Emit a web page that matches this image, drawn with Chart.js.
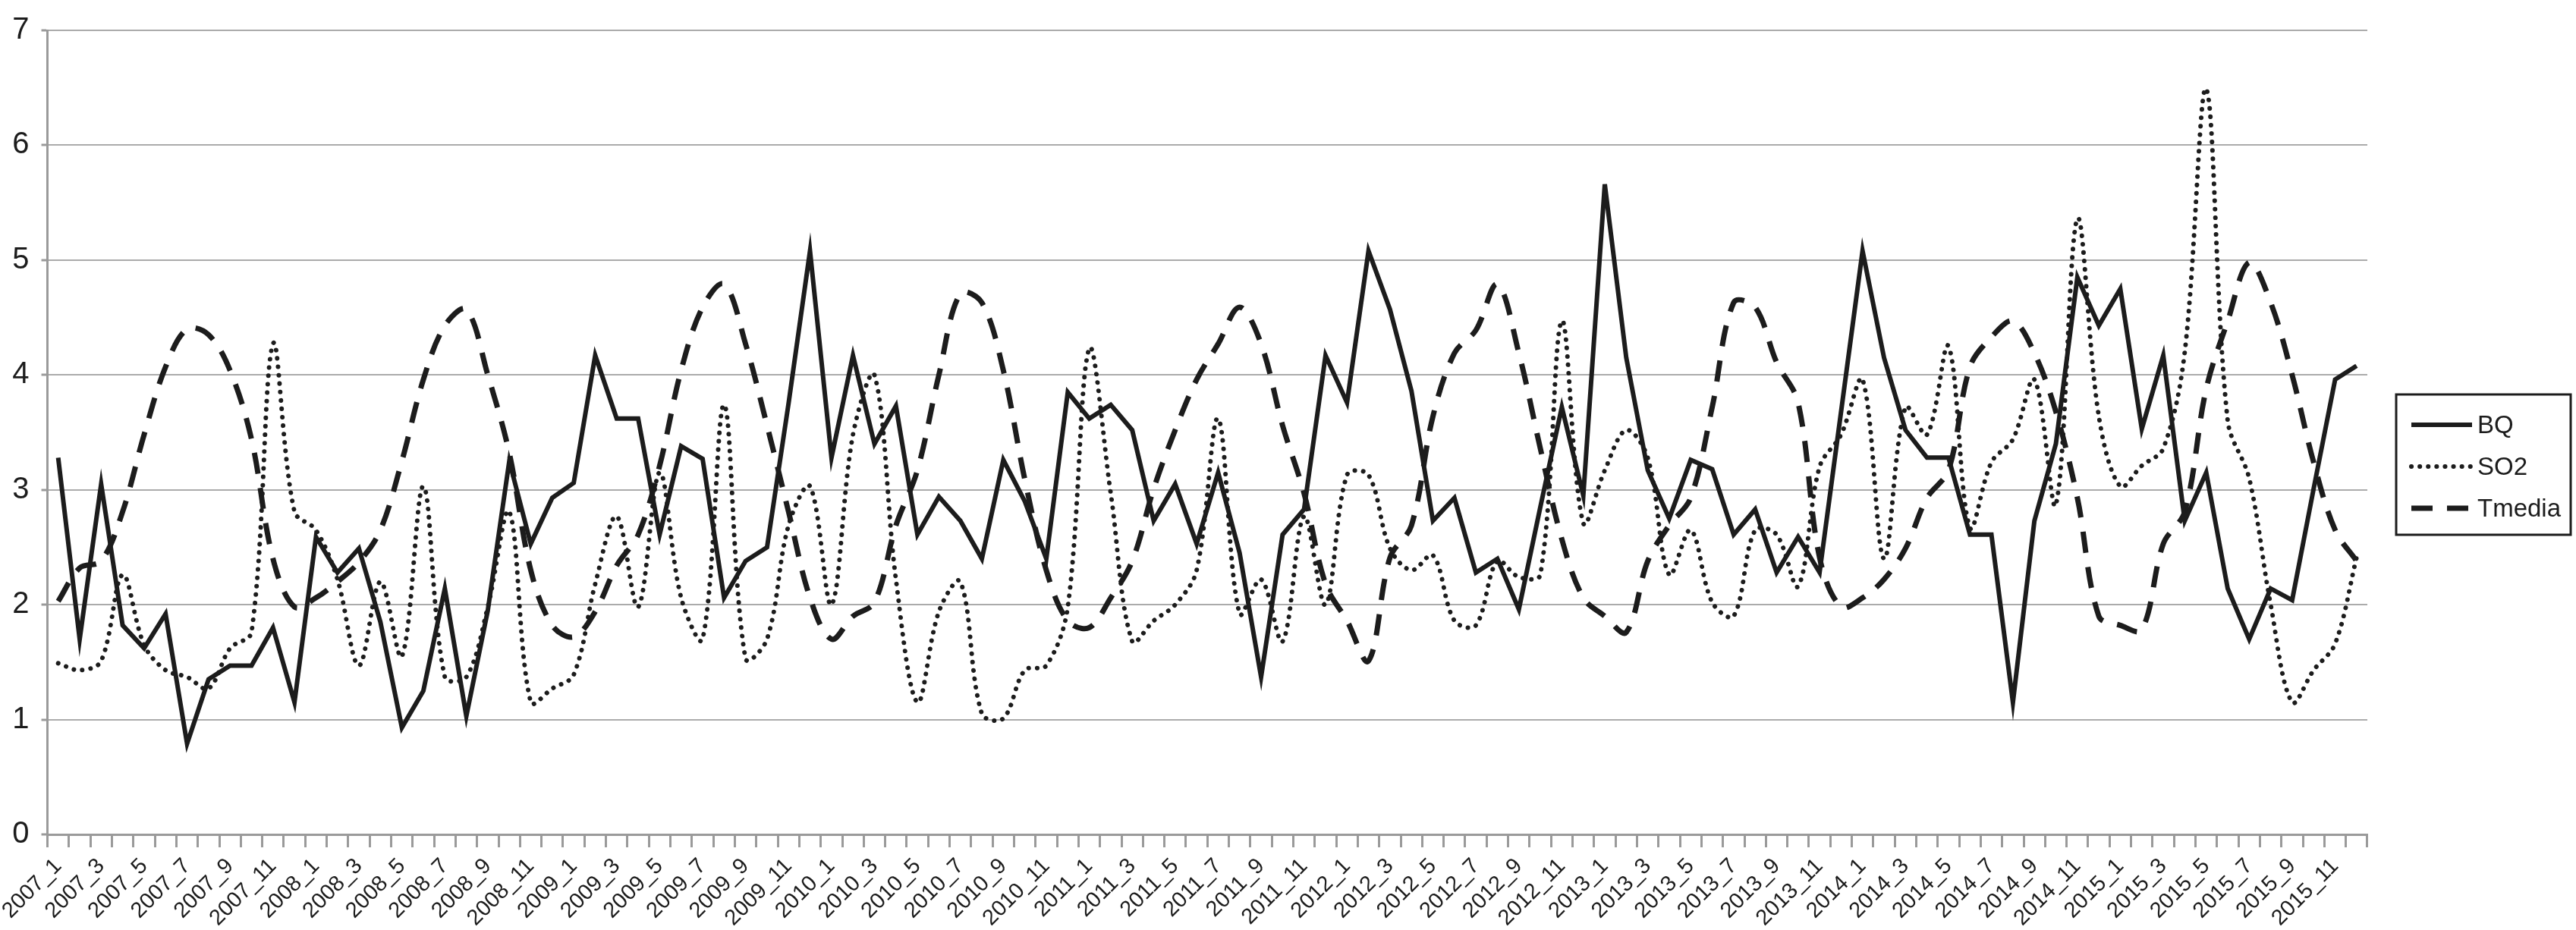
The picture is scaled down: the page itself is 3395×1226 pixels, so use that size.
<!DOCTYPE html>
<html>
<head>
<meta charset="utf-8">
<script src="https://cdn.jsdelivr.net/npm/chart.js@4.4.1/dist/chart.umd.min.js"></script>
<style>
  html, body { margin: 0; padding: 0; background: #fff; }
  #wrap { width: 3395px; height: 1226px; }
</style>
</head>
<body>
<div id="wrap"><canvas id="myChart" width="3395" height="1226"></canvas></div>
<script>
// months 2007_1 .. 2015_12
var years = [2007, 2008, 2009, 2010, 2011, 2012, 2013, 2014, 2015];
var months = [1, 2, 3, 4, 5, 6, 7, 8, 9, 10, 11, 12];
var labels = [];
years.forEach(function (y) {
  months.forEach(function (m) { labels.push(y + "_" + m); });
});

var bq = [
  3.28, 1.70, 3.05, 1.82, 1.62, 1.92, 0.79, 1.35, 1.47, 1.47, 1.80, 1.15,
  2.59, 2.28, 2.49, 1.85, 0.93, 1.25, 2.14, 1.03, 1.95, 3.25, 2.53, 2.93,
  3.06, 4.17, 3.62, 3.62, 2.61, 3.38, 3.27, 2.06, 2.38, 2.50, 3.75, 5.08,
  3.28, 4.17, 3.40, 3.73, 2.61, 2.94, 2.73, 2.40, 3.26, 2.90, 2.40, 3.85,
  3.62, 3.74, 3.52, 2.73, 3.05, 2.53, 3.15, 2.45, 1.37, 2.61, 2.83, 4.17,
  3.76, 5.08, 4.57, 3.86, 2.73, 2.93, 2.28, 2.40, 1.96, 2.85, 3.72, 2.95,
  5.66, 4.15, 3.17, 2.75, 3.26, 3.18, 2.61, 2.83, 2.28, 2.59, 2.28, 3.68,
  5.08, 4.15, 3.52, 3.28, 3.28, 2.61, 2.61, 1.15, 2.73, 3.40, 4.85, 4.43,
  4.75, 3.53, 4.17, 2.73, 3.15, 2.14, 1.70, 2.14, 2.04, 3.01, 3.96, 4.08
];
var so2 = [
  1.49, 1.43, 1.51, 2.26, 1.65, 1.43, 1.37, 1.27, 1.62, 1.76, 4.27, 2.81,
  2.65, 2.22, 1.47, 2.20, 1.55, 3.03, 1.37, 1.37, 1.98, 2.81, 1.15, 1.27,
  1.39, 2.18, 2.77, 1.98, 3.15, 2.06, 1.70, 3.74, 1.53, 1.70, 2.69, 3.03,
  2.00, 3.48, 4.00, 2.22, 1.15, 1.94, 2.20, 1.05, 1.01, 1.43, 1.47, 1.98,
  4.23, 2.97, 1.68, 1.86, 2.00, 2.30, 3.62, 1.92, 2.22, 1.68, 2.77, 2.00,
  3.13, 3.13, 2.49, 2.30, 2.43, 1.86, 1.82, 2.38, 2.24, 2.26, 4.47, 2.71,
  3.17, 3.52, 3.28, 2.26, 2.65, 2.02, 1.90, 2.65, 2.61, 2.16, 3.20, 3.48,
  3.96, 2.40, 3.72, 3.48, 4.25, 2.67, 3.24, 3.44, 3.96, 2.87, 5.36, 3.64,
  3.03, 3.21, 3.36, 4.20, 6.49, 3.60, 3.10, 2.00, 1.15, 1.43, 1.66, 2.41
];
var tmedia = [
  2.03, 2.32, 2.38, 2.81, 3.48, 4.07, 4.40, 4.35, 4.04, 3.44, 2.40, 1.98,
  2.06, 2.20, 2.37, 2.65, 3.25, 3.96, 4.43, 4.57, 4.00, 3.32, 2.30, 1.82,
  1.72, 1.94, 2.34, 2.61, 3.21, 4.04, 4.59, 4.79, 4.27, 3.56, 2.81, 2.06,
  1.70, 1.90, 2.02, 2.69, 3.17, 4.00, 4.71, 4.63, 4.04, 3.09, 2.30, 1.86,
  1.80, 2.06, 2.38, 3.01, 3.52, 3.96, 4.27, 4.59, 4.27, 3.56, 2.97, 2.18,
  1.86, 1.51, 2.41, 2.69, 3.64, 4.19, 4.39, 4.79, 4.19, 3.36, 2.57, 2.06,
  1.90, 1.76, 2.38, 2.69, 2.93, 3.72, 4.63, 4.59, 4.11, 3.76, 2.41, 1.98,
  2.06, 2.22, 2.49, 2.93, 3.17, 4.07, 4.33, 4.47, 4.19, 3.68, 2.93, 1.90,
  1.82, 1.78, 2.53, 2.81, 3.88, 4.47, 4.98, 4.63, 4.00, 3.24, 2.65, 2.38
];
var yTicks = [0, 1, 2, 3, 4, 5, 6, 7];

var FONT = "'Liberation Sans', Arial, sans-serif";
var INK = "#1c1c1c";
var GRID = "#ababab";

// legend box drawn on the right, like the original
var boxLegend = {
  id: "boxLegend",
  afterDraw: function (chart) {
    var c = chart.ctx;
    var left = chart.chartArea.right + 38;
    var top = 520, w = 230, h = 185, row = 55;
    c.save();
    c.strokeStyle = INK;
    c.lineWidth = 3;
    c.strokeRect(left, top, w, h);
    c.font = "33px " + FONT;
    c.fillStyle = INK;
    c.textBaseline = "middle";
    chart.data.datasets.forEach(function (ds, i) {
      var y = top + 40 + i * row;
      c.beginPath();
      c.lineWidth = ds.borderWidth;
      c.lineCap = ds.borderCapStyle || "butt";
      c.setLineDash(ds.borderDash || []);
      c.strokeStyle = ds.borderColor;
      c.moveTo(left + 20, y);
      c.lineTo(left + 100, y);
      c.stroke();
      c.setLineDash([]);
      c.fillText(ds.label, left + 107, y + 2);
    });
    c.restore();
  }
};

var ctx = document.getElementById("myChart").getContext("2d");
var myChart = new Chart(ctx, {
  type: "line",
  data: {
    labels: labels,
    datasets: [
      {
        label: "BQ",
        data: bq,
        borderColor: INK,
        borderWidth: 6,
        borderJoinStyle: "miter",
        pointRadius: 0,
        tension: 0
      },
      {
        label: "SO2",
        data: so2,
        borderColor: INK,
        borderWidth: 6,
        borderDash: [0.1, 11],
        borderCapStyle: "round",
        pointRadius: 0,
        tension: 0.35
      },
      {
        label: "Tmedia",
        data: tmedia,
        borderColor: INK,
        borderWidth: 7,
        borderDash: [28, 19],
        pointRadius: 0,
        tension: 0.35
      }
    ]
  },
  options: {
    responsive: false,
    animation: false,
    devicePixelRatio: 1,
    layout: { padding: { top: 18, right: 275, left: 0, bottom: 0 } },
    plugins: {
      legend: { display: false },
      tooltip: { enabled: false }
    },
    scales: {
      x: {
        offset: true,
        grid: {
          offset: true,
          drawOnChartArea: false,
          drawTicks: true,
          tickLength: 17,
          tickColor: "#9a9a9a",
          tickWidth: 3
        },
        border: { color: "#9a9a9a", width: 3 },
        ticks: {
          autoSkip: false,
          minRotation: 45,
          maxRotation: 45,
          padding: 8,
          color: INK,
          font: { family: FONT, size: 29 },
          callback: function (v, i) { return i % 2 === 0 ? labels[i] : ""; }
        },
        afterFit: function (s) { s.height = 126; }
      },
      y: {
        min: yTicks[0],
        max: yTicks[yTicks.length - 1],
        afterBuildTicks: function (s) {
          s.ticks = yTicks.map(function (v) { return { value: v }; });
        },
        grid: {
          color: GRID,
          lineWidth: 2,
          drawTicks: true,
          tickLength: 8,
          tickColor: "#9a9a9a",
          tickWidth: 3
        },
        border: { color: "#9a9a9a", width: 3 },
        ticks: {
          padding: 16,
          color: INK,
          font: { family: FONT, size: 40 }
        },
        afterFit: function (s) { s.width = 58; }
      }
    }
  },
  plugins: [boxLegend]
});
</script>
</body>
</html>
